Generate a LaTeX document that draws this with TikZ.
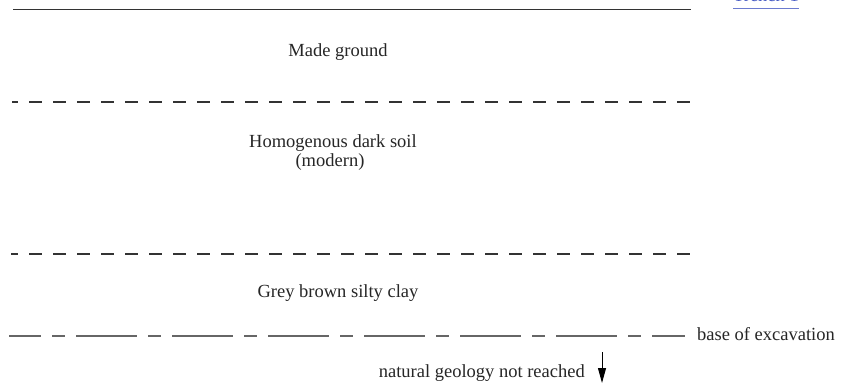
\documentclass[tikz,border=0pt]{standalone}
\usepackage{fontspec}
\setmainfont{Liberation Serif}
\usetikzlibrary{arrows.meta}
\definecolor{linkblue}{RGB}{70,90,195}
\tikzset{
  lbl/.style={anchor=base, inner sep=0pt, font=\fontsize{18.5}{22}\selectfont, text=black!85},
  boundary/.style={line width=1.1pt, black!80},
  fine/.style={boundary, dash pattern=on 13pt off 11pt, dash phase=7pt},
  basedash/.style={boundary, black!60, dash pattern=on 61pt off 11pt on 13pt off 11pt, dash phase=29pt},
}
\begin{document}
\begin{tikzpicture}[x=1pt,y=-1pt]
\useasboundingbox (0,0) rectangle (845,387);
\begin{scope}
\clip (0,0) rectangle (845,387);
\node[lbl, text=linkblue, anchor=base west] (link) at (733,1.5) {Trench 1};
\draw[linkblue!80, line width=0.9pt] (733,8.7) -- (799,8.7);
\end{scope}
% top ground surface
\coordinate (t0) at (13,9.5); \coordinate (t1) at (691,9.5);
\draw[boundary, line width=1.3pt] (t0) -- (t1);
\node[lbl] (made) at (338,57) {Made ground};
% boundary 1
\coordinate (a0) at (12,102); \coordinate (a1) at (690,102);
\draw[fine] (a0) -- (a1);
\node[lbl] (homo) at (333,148) {Homogenous dark soil};
\node[lbl] (mod) at (330,167) {(modern)};
% boundary 2
\coordinate (b0) at (11,254); \coordinate (b1) at (690,254);
\draw[fine, dash phase=6pt] (b0) -- (b1);
\node[lbl] (grey) at (338,297) {Grey brown silty clay};
% base of excavation
\coordinate (c0) at (9,336); \coordinate (c1) at (685,336);
\draw[basedash] (c0) -- (c1);
\node[lbl, anchor=base west] (base) at (697,340) {base of excavation};
\node[lbl, anchor=base east] (nat) at (585,377) {natural geology not reached};
\coordinate (ar0) at (602,352); \coordinate (ar1) at (602,383);
\draw[line width=1pt, -{Triangle[length=15pt,width=8pt]}] (ar0) -- (ar1);
\end{tikzpicture}
\end{document}
